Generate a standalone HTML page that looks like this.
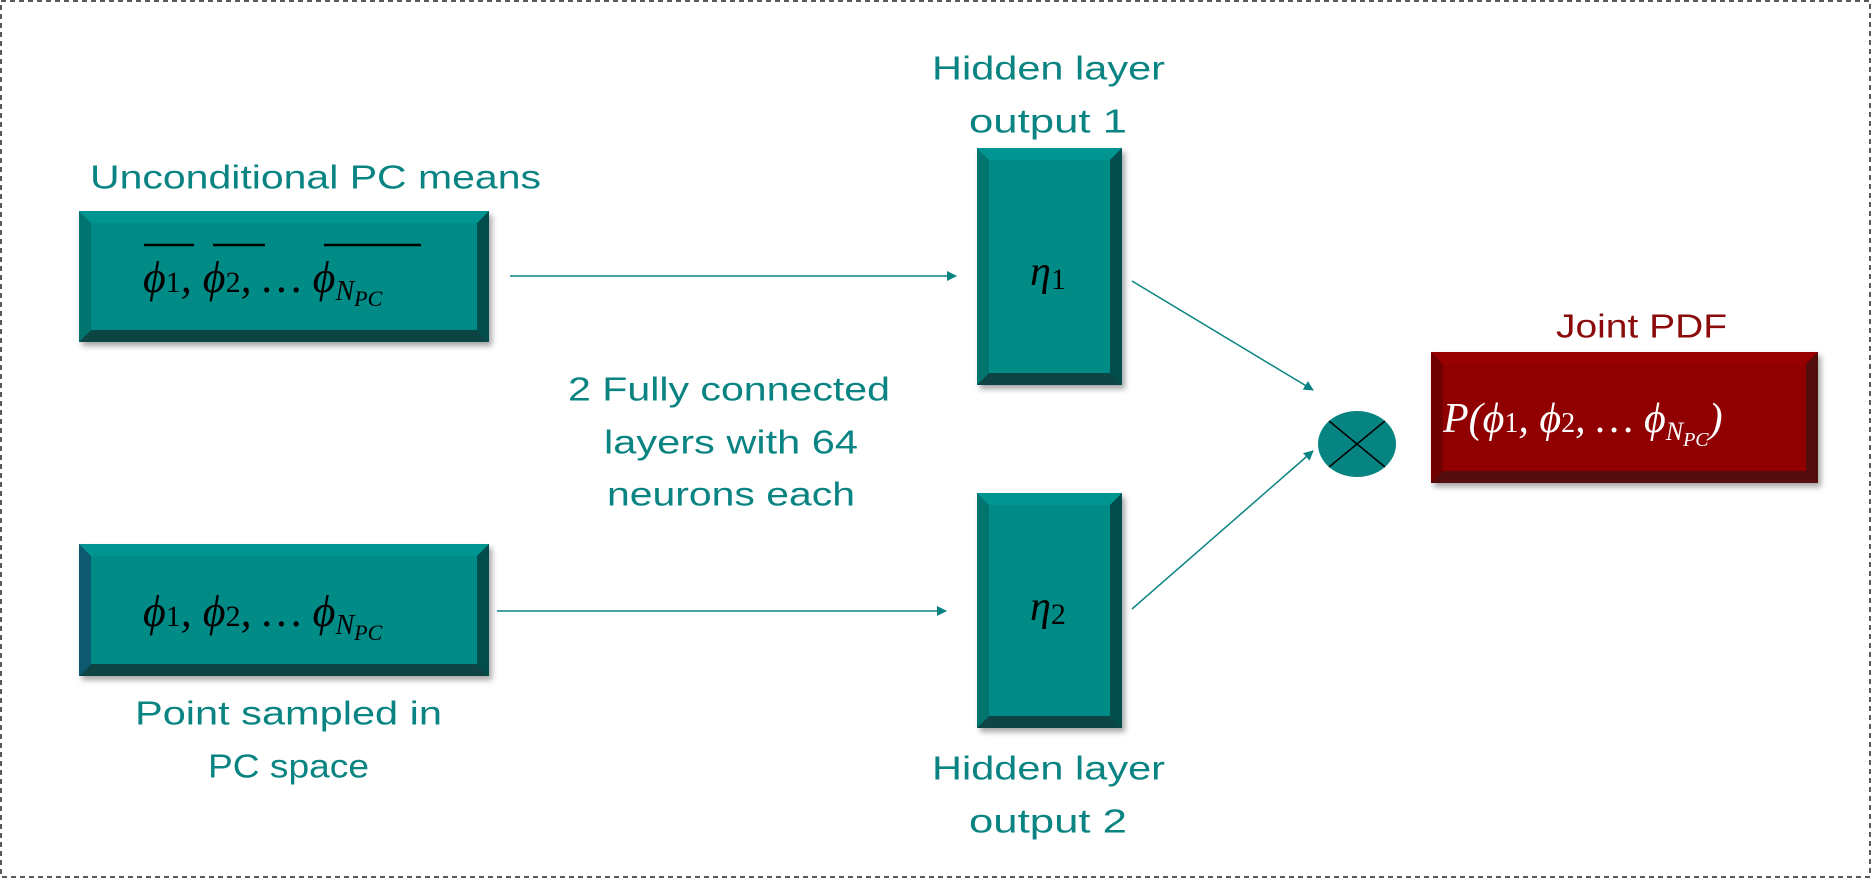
<!DOCTYPE html>
<html><head><meta charset="utf-8"><style>
html,body{margin:0;padding:0;background:#fff;}
svg{display:block;}
.l{font-family:"Liberation Sans",sans-serif;font-size:33px;fill:#0A8482;}
.m{font-family:"Liberation Serif",serif;font-style:italic;fill:#000;}
</style></head><body>
<svg width="1872" height="879" viewBox="0 0 1872 879" xmlns="http://www.w3.org/2000/svg">
<defs>
<marker id="ah" markerWidth="10" markerHeight="10" refX="9" refY="5" orient="auto" markerUnits="userSpaceOnUse">
<path d="M0,0 L10,5 L0,10 z" fill="#0A8482"/></marker>
<filter id="sh" x="-10%" y="-10%" width="130%" height="130%"><feDropShadow dx="3" dy="4" stdDeviation="3" flood-color="#000" flood-opacity="0.35"/></filter>
</defs>
<rect x="1" y="1" width="1869" height="876" fill="none" stroke="#222" stroke-width="1.5" stroke-dasharray="5,4"/>

<!-- Box 1 -->
<g filter="url(#sh)">
<rect x="79" y="211" width="410" height="131" fill="#058B87"/>
<polygon points="79,211 489,211 477,223 91,223" fill="#069591"/>
<polygon points="79,211 91,223 91,330 79,342" fill="#047470"/>
<polygon points="489,211 489,342 477,330 477,223" fill="#034E4C"/>
<polygon points="79,342 489,342 477,330 91,330" fill="#0B4444"/>
</g>
<text class="m" x="143" y="292" font-size="44">ϕ<tspan font-size="30" font-style="normal">1</tspan>, ϕ<tspan font-size="30" font-style="normal">2</tspan>, … ϕ<tspan font-size="28" dy="8">N<tspan font-size="22" dy="6">PC</tspan></tspan></text>
<line x1="144" y1="245" x2="194" y2="245" stroke="#000" stroke-width="2.5"/>
<line x1="213" y1="245" x2="265" y2="245" stroke="#000" stroke-width="2.5"/>
<line x1="324" y1="245" x2="421" y2="245" stroke="#000" stroke-width="2.5"/>

<!-- Box 2 -->
<g filter="url(#sh)">
<rect x="79" y="544" width="410" height="132" fill="#058B87"/>
<polygon points="79,544 489,544 477,556 91,556" fill="#069591"/>
<polygon points="79,544 91,556 91,664 79,676" fill="#0F5A70"/>
<polygon points="489,544 489,676 477,664 477,556" fill="#034E4C"/>
<polygon points="79,676 489,676 477,664 91,664" fill="#0B4444"/>
</g>
<text class="m" x="143" y="626" font-size="44">ϕ<tspan font-size="30" font-style="normal">1</tspan>, ϕ<tspan font-size="30" font-style="normal">2</tspan>, … ϕ<tspan font-size="28" dy="8">N<tspan font-size="22" dy="6">PC</tspan></tspan></text>

<!-- Hidden 1 -->
<g filter="url(#sh)">
<rect x="977" y="148" width="145" height="237" fill="#058B87"/>
<polygon points="977,148 1122,148 1110,160 989,160" fill="#069591"/>
<polygon points="977,148 989,160 989,373 977,385" fill="#047470"/>
<polygon points="1122,148 1122,385 1110,373 1110,160" fill="#034E4C"/>
<polygon points="977,385 1122,385 1110,373 989,373" fill="#0B4444"/>
</g>
<text class="m" x="1030" y="285" font-size="42">η<tspan font-size="30" font-style="normal" dy="4">1</tspan></text>

<!-- Hidden 2 -->
<g filter="url(#sh)">
<rect x="977" y="493" width="145" height="235" fill="#058B87"/>
<polygon points="977,493 1122,493 1110,505 989,505" fill="#069591"/>
<polygon points="977,493 989,505 989,716 977,728" fill="#047470"/>
<polygon points="1122,493 1122,728 1110,716 1110,505" fill="#034E4C"/>
<polygon points="977,728 1122,728 1110,716 989,716" fill="#0B4444"/>
</g>
<text class="m" x="1030" y="620" font-size="42">η<tspan font-size="30" font-style="normal" dy="4">2</tspan></text>

<!-- Red box -->
<g filter="url(#sh)">
<rect x="1431" y="352" width="387" height="131" fill="#900404"/>
<polygon points="1431,352 1818,352 1806,364 1443,364" fill="#960606"/>
<polygon points="1431,352 1443,364 1443,471 1431,483" fill="#700000"/>
<polygon points="1818,352 1818,483 1806,471 1806,364" fill="#520909"/>
<polygon points="1431,483 1818,483 1806,471 1443,471" fill="#550A0A"/>
</g>
<text class="m" x="1443" y="432" font-size="42" fill="#fff" style="fill:#fff">P(ϕ<tspan font-size="28" font-style="normal">1</tspan>, ϕ<tspan font-size="28" font-style="normal">2</tspan>, … ϕ<tspan font-size="26" dy="8">N<tspan font-size="20" dy="6">PC</tspan></tspan><tspan dy="-14">)</tspan></text>

<!-- Circle -->
<ellipse cx="1357" cy="444" rx="39" ry="33" fill="#058482"/>
<line x1="1329" y1="421" x2="1385" y2="467" stroke="#000" stroke-width="1.5"/>
<line x1="1385" y1="421" x2="1329" y2="467" stroke="#000" stroke-width="1.5"/>

<!-- Arrows -->
<g stroke="#0A8482" stroke-width="1.5" fill="none">
<line x1="510" y1="276" x2="956" y2="276" marker-end="url(#ah)"/>
<line x1="497" y1="611" x2="946" y2="611" marker-end="url(#ah)"/>
<line x1="1132" y1="281" x2="1313" y2="390" marker-end="url(#ah)"/>
<line x1="1132" y1="609" x2="1313" y2="451" marker-end="url(#ah)"/>
</g>

<!-- Labels -->
<g class="l" dominant-baseline="central">
<text x="90" y="177" textLength="451" lengthAdjust="spacingAndGlyphs">Unconditional PC means</text>
<text x="932" y="68" textLength="233" lengthAdjust="spacingAndGlyphs">Hidden layer</text>
<text x="969" y="121" textLength="158" lengthAdjust="spacingAndGlyphs">output 1</text>
<text x="568" y="389" textLength="322" lengthAdjust="spacingAndGlyphs">2 Fully connected</text>
<text x="604" y="442" textLength="254" lengthAdjust="spacingAndGlyphs">layers with 64</text>
<text x="607" y="494" textLength="248" lengthAdjust="spacingAndGlyphs">neurons each</text>
<text x="135" y="713" textLength="307" lengthAdjust="spacingAndGlyphs">Point sampled in</text>
<text x="208" y="766" textLength="161" lengthAdjust="spacingAndGlyphs">PC space</text>
<text x="932" y="768" textLength="233" lengthAdjust="spacingAndGlyphs">Hidden layer</text>
<text x="969" y="821" textLength="158" lengthAdjust="spacingAndGlyphs">output 2</text>
<text x="1556" y="326" textLength="171" lengthAdjust="spacingAndGlyphs" style="fill:#8B0A0A">Joint PDF</text>
</g>
</svg>
</body></html>
